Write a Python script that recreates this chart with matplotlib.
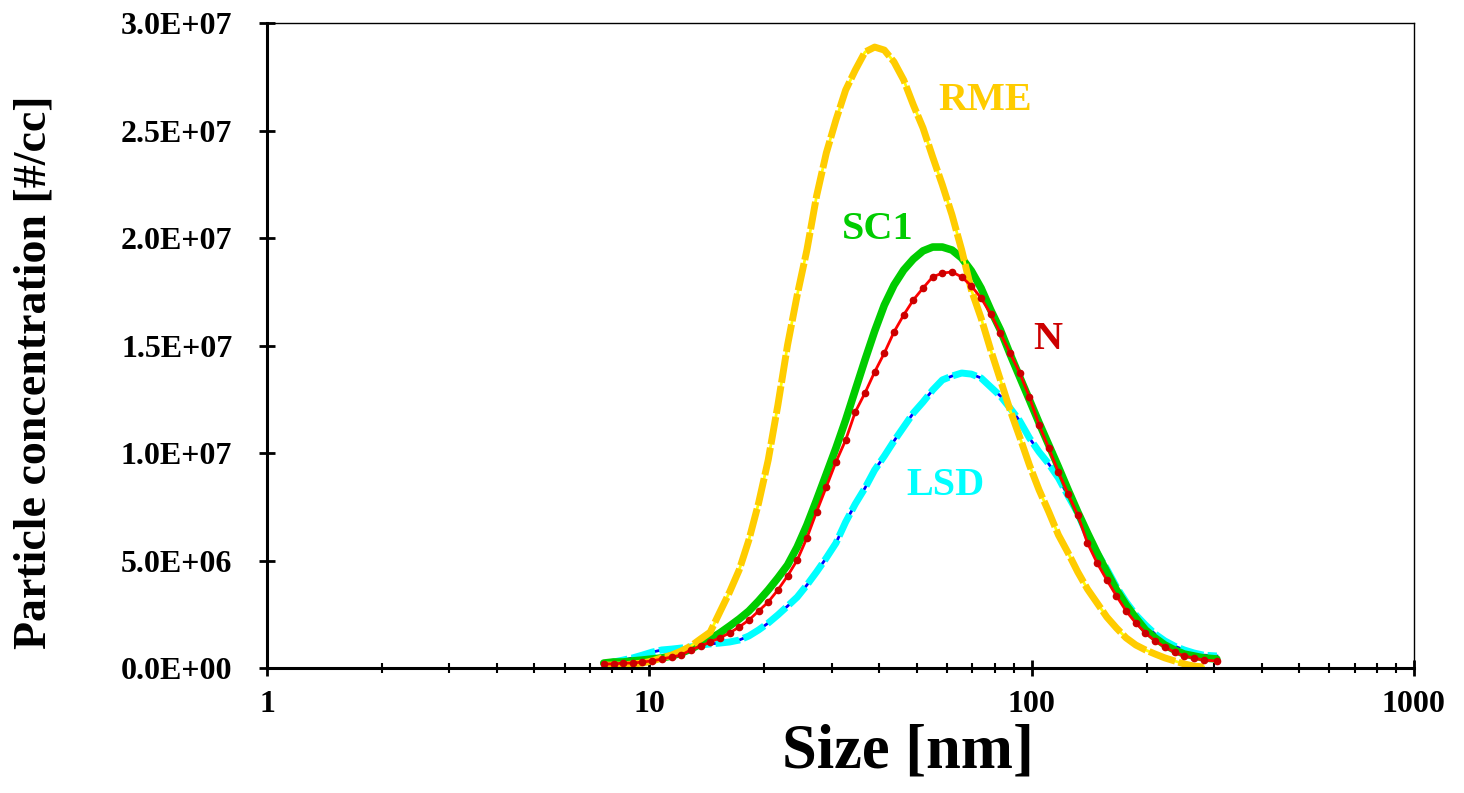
import numpy as np
import matplotlib
matplotlib.use('Agg')
import matplotlib.pyplot as plt
from matplotlib.ticker import LogLocator, FixedLocator, FuncFormatter, NullFormatter

plt.rcParams['font.family'] = ['Liberation Serif', 'DejaVu Serif']
plt.rcParams['font.weight'] = 'bold'

# Particle size [nm] (SMPS channels)
size_nm = [7.6, 8.06, 8.54, 9.05, 9.59, 10.17, 10.78, 11.43, 12.11, 12.84, 13.61, 14.43,
           15.29, 16.21, 17.18, 18.21, 19.31, 20.46, 21.69, 22.99, 24.37, 25.83, 27.38, 29.03,
           30.77, 32.62, 34.57, 36.65, 38.85, 41.18, 43.65, 46.27, 49.04, 51.98, 55.10, 58.41,
           61.91, 65.63, 69.56, 73.74, 78.16, 82.85, 87.82, 93.09, 98.68, 104.6, 110.9, 117.5,
           124.6, 132.0, 140.0, 148.4, 157.3, 166.7, 176.7, 187.3, 198.5, 210.4, 223.1, 236.5,
           250.6, 265.7, 281.6, 305.0]

# concentrations in millions of particles per cc
rme = [0.14, 0.14, 0.14, 0.19, 0.23, 0.33, 0.47, 0.60, 0.79, 1.02, 1.35, 1.67,
       2.60, 3.53, 4.56, 5.95, 7.67, 9.67, 12.23, 15.02, 17.35, 19.44, 21.95, 23.95,
       25.49, 26.88, 27.81, 28.65, 28.88, 28.74, 28.19, 27.35, 26.19, 25.12, 23.77, 22.47,
       21.07, 19.44, 17.58, 16.28, 14.79, 13.40, 12.00, 10.74, 9.44, 8.28, 7.26, 6.19,
       5.35, 4.47, 3.67, 3.02, 2.37, 1.86, 1.40, 1.07, 0.84, 0.65, 0.47, 0.33,
       0.19, 0.09, 0.05, np.nan]

sc1 = [0.23, 0.28, 0.28, 0.33, 0.37, 0.42, 0.47, 0.56, 0.70, 0.88, 1.12, 1.35,
       1.63, 1.95, 2.28, 2.65, 3.12, 3.63, 4.19, 4.79, 5.63, 6.65, 7.81, 9.02,
       10.23, 11.53, 12.93, 14.33, 15.67, 16.88, 17.81, 18.51, 19.02, 19.40, 19.58, 19.58,
       19.44, 19.07, 18.47, 17.67, 16.65, 15.72, 14.60, 13.53, 12.47, 11.40, 10.37, 9.35,
       8.28, 7.26, 6.28, 5.35, 4.47, 3.63, 2.93, 2.33, 1.77, 1.40, 1.07, 0.84,
       0.65, 0.56, 0.47, 0.42]

n_fuel = [0.19, 0.19, 0.23, 0.23, 0.28, 0.33, 0.42, 0.51, 0.60, 0.84, 1.02, 1.21,
          1.40, 1.63, 1.91, 2.23, 2.65, 3.07, 3.63, 4.28, 5.02, 6.05, 7.26, 8.42,
          9.58, 10.60, 11.91, 12.79, 13.77, 14.65, 15.63, 16.42, 17.12, 17.67, 18.19, 18.37,
          18.42, 18.19, 17.77, 17.21, 16.47, 15.58, 14.65, 13.72, 12.60, 11.30, 10.23, 9.12,
          8.09, 7.12, 5.81, 4.88, 4.09, 3.35, 2.65, 2.09, 1.63, 1.26, 0.98, 0.74,
          0.56, 0.47, 0.37, 0.33]

lsd = [0.19, 0.28, 0.37, 0.47, 0.60, 0.74, 0.84, 0.88, 0.93, 0.98, 1.07, 1.12,
       1.16, 1.21, 1.30, 1.49, 1.77, 2.09, 2.47, 2.88, 3.30, 3.86, 4.47, 5.12,
       5.81, 6.79, 7.63, 8.37, 9.21, 9.86, 10.56, 11.21, 11.86, 12.37, 12.93, 13.40,
       13.58, 13.72, 13.67, 13.49, 13.07, 12.65, 12.09, 11.49, 10.70, 10.05, 9.49, 8.84,
       8.00, 7.21, 6.14, 5.35, 4.60, 3.77, 3.07, 2.47, 2.00, 1.58, 1.26, 1.02,
       0.84, 0.70, 0.60, 0.56]

x = np.array(size_nm)
scale = 1e6

fig = plt.figure(figsize=(14.64, 7.93), dpi=100)
ax = fig.add_axes([0.1824, 0.1576, 0.7834, 0.8134])

# LSD: blue line under cyan dashes
ax.plot(x, np.array(lsd) * scale, color='#0000FF', lw=2.0)
ax.plot(x, np.array(lsd) * scale, color='#00FFFF', lw=5.0, dashes=(3.5, 0.6))
# SC1: thick green
ax.plot(x, np.array(sc1) * scale, color='#00CC00', lw=5.5, solid_capstyle='round')
# RME: yellow line under gold dashes
ax.plot(x, np.array(rme) * scale, color='#FFFF00', lw=2.0)
ax.plot(x, np.array(rme) * scale, color='#FFCC00', lw=5.0, dashes=(4, 0.5))
# N: red line with dark red markers
ax.plot(x, np.array(n_fuel) * scale, color='#FF0000', lw=2.0, marker='o',
        markersize=4.5, markerfacecolor='#CC0000', markeredgecolor='#CC0000')

ax.text(75.4, 26.4e6, 'RME', color='#FFCC00', fontsize=29, fontweight='bold', ha='center', va='center')
ax.text(39.6, 20.4e6, 'SC1', color='#00CC00', fontsize=29, fontweight='bold', ha='center', va='center')
ax.text(110, 15.3e6, 'N', color='#CC0000', fontsize=29, fontweight='bold', ha='center', va='center')
ax.text(59.6, 8.5e6, 'LSD', color='#00FFFF', fontsize=29, fontweight='bold', ha='center', va='center')

ax.set_xscale('log')
ax.set_xlim(1, 1000)
ax.set_ylim(0, 3e7)
ax.xaxis.set_major_locator(FixedLocator([1, 10, 100, 1000]))
ax.xaxis.set_major_formatter(FuncFormatter(lambda v, p: '%d' % v))
ax.xaxis.set_minor_locator(LogLocator(base=10, subs=np.arange(2, 10)))
ax.xaxis.set_minor_formatter(NullFormatter())
ax.yaxis.set_major_locator(FixedLocator(np.arange(0, 3.01e7, 5e6)))
ax.yaxis.set_major_formatter(FuncFormatter(lambda v, p: ('%.1E' % v)))

for side in ['left', 'bottom']:
    ax.spines[side].set_linewidth(2.2)
for side in ['top', 'right']:
    ax.spines[side].set_linewidth(1.0)

ax.tick_params(axis='y', which='major', direction='inout', length=12, width=2.0,
               labelsize=23, pad=19)
ax.tick_params(axis='x', which='major', direction='inout', length=12, width=2.0,
               labelsize=23, pad=10)
ax.tick_params(axis='x', which='minor', direction='inout', length=7, width=1.5)
for lab in ax.get_xticklabels() + ax.get_yticklabels():
    lab.set_fontweight('bold')

fig.text(908 / 1464, 1 - 752 / 793, 'Size [nm]', fontsize=45, fontweight='bold',
         ha='center', va='center')
fig.text(35 / 1464, 1 - 372 / 793, 'Particle concentration [#/cc]', fontsize=33,
         fontweight='bold', rotation=90, ha='center', va='center')

fig.savefig('out.png', dpi=100)
